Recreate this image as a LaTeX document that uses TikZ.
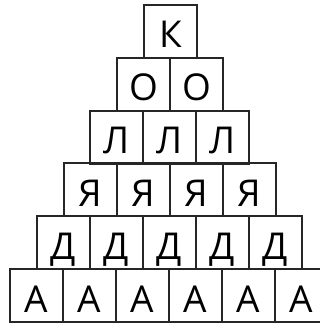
\documentclass[tikz,border=0pt]{standalone}
\usepackage{fontspec}
\setmainfont{Open Sans}
\begin{document}
\begin{tikzpicture}[x=1pt,y=1pt,
  cell/.style={draw=black!85,line width=2pt,minimum width=53pt,minimum height=53pt,
    inner sep=0pt,text height=33pt,text depth=0pt,font=\fontsize{37}{37}\selectfont}]
\useasboundingbox (0,0) rectangle (320,324);
\clip (0,0) rectangle (320,324);
\foreach \r/\L in {1/К,2/О,3/Л,4/Я,5/Д,6/А}{
  \pgfmathsetmacro{\n}{\r-1}
  \foreach \i in {0,...,\n}{
    \node[cell] (c\r-\i) at ({144-(\r-1)*26.8+26.5+\i*53},{324-(5+(\r-1)*52.8+26.5)}) {\L};
  }
}
\end{tikzpicture}
\end{document}
